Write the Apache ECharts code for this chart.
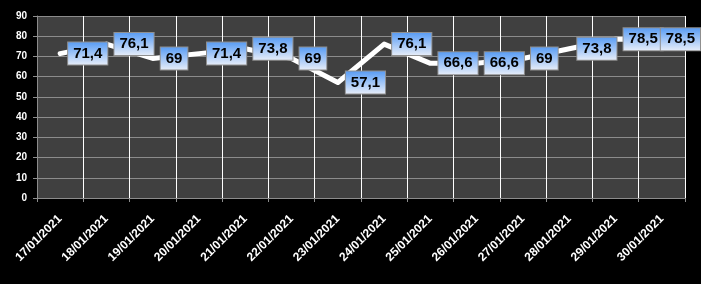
<!DOCTYPE html>
<html><head><meta charset="utf-8">
<script src="https://cdn.jsdelivr.net/npm/echarts@6/dist/echarts.min.js"></script>
<style>html,body{margin:0;padding:0;background:#000}#c{width:701px;height:284px}</style>
</head><body><div id="c"></div>
<script>
const categories = ['17/01/2021','18/01/2021','19/01/2021','20/01/2021','21/01/2021','22/01/2021','23/01/2021','24/01/2021','25/01/2021','26/01/2021','27/01/2021','28/01/2021','29/01/2021','30/01/2021'];
const values = [71.4, 76.1, 69, 71.4, 73.8, 69, 57.1, 76.1, 66.6, 66.6, 69, 73.8, 78.5, 78.5];
const yTicks = {min: 0, max: 90, interval: 10};

const chart = echarts.init(document.getElementById('c'), null, {renderer: 'canvas'});
chart.setOption({
  backgroundColor: '#000',
  animation: false,
  grid: {left: 37, right: 16, top: 16, bottom: 86, show: true, backgroundColor: '#404040', borderWidth: 0},
  xAxis: {
    type: 'category', data: categories, boundaryGap: true,
    axisLine: {lineStyle: {color: '#8c8c8c', width: 1}},
    axisTick: {show: true, length: 4, lineStyle: {color: '#8c8c8c'}},
    splitLine: {show: true, lineStyle: {color: '#ffffff', width: 1}},
    axisLabel: {rotate: 45, color: '#fff', fontWeight: 'bold', fontSize: 12, fontFamily: 'Liberation Sans, Arial', margin: 19, interval: 0}
  },
  yAxis: {
    type: 'value', min: yTicks.min, max: yTicks.max, interval: yTicks.interval,
    axisLine: {show: true, lineStyle: {color: '#8c8c8c'}},
    axisTick: {show: true, length: 4, lineStyle: {color: '#8c8c8c'}},
    splitLine: {show: true, lineStyle: {color: '#8c8c8c', width: 1}},
    axisLabel: {color: '#fff', fontWeight: 'bold', fontSize: 10, fontFamily: 'Liberation Sans, Arial', margin: 10}
  },
  series: [{
    type: 'line', data: values, showSymbol: true, symbol: 'circle', symbolSize: 2,
    itemStyle: {color: '#ffffff', borderWidth: 0},
    lineStyle: {color: '#fff', width: 5, cap: 'round', join: 'round'},
    label: {
      show: true, position: 'right', distance: 7,
      formatter: p => String(p.value).replace('.', ','),
      color: '#000', fontWeight: 'bold', fontSize: 15, fontFamily: 'Liberation Sans, Arial',
      padding: [4, 5, 3, 5],
      borderColor: '#8f8f8f', borderWidth: 1,
      backgroundColor: {type: 'linear', x: 0, y: 0, x2: 0, y2: 1, colorStops: [{offset: 0, color: '#559af4'}, {offset: 1, color: '#eaeff9'}]}
    },
    labelLayout: function (p) {
      const r = p.labelRect;
      const over = r.x + r.width - 701;
      return over > 0 ? {dx: -over} : {dx: 0};
    }
  }]
});
</script></body></html>
